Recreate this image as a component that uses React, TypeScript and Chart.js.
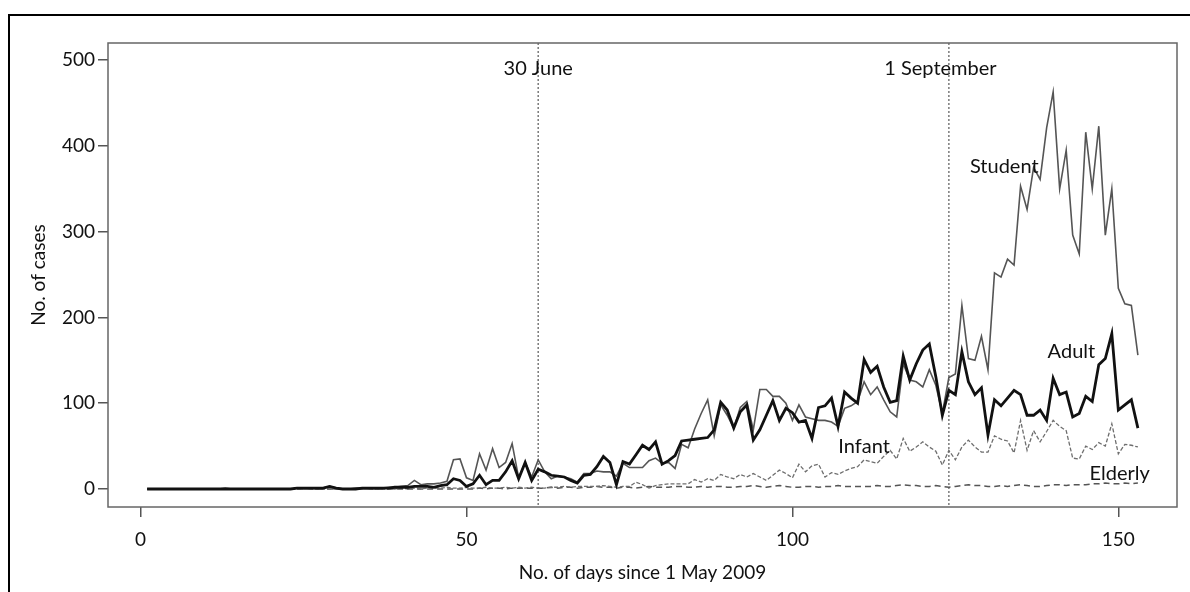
import React, { useEffect, useRef } from "react";
import { Chart, registerables } from "chart.js";

Chart.register(...registerables);

const FIRST_DAY = 1;

const student = [
  0, 0, 0, 0, 0, 0, 0, 0, 0, 0,
  0, 0, 1, 0, 0, 0, 0, 0, 0, 0,
  0, 0, 0, 1, 1, 1, 0, 1, 3, 1,
  0, 0, 1, 1, 1, 0, 1, 2, 2, 3,
  4, 10, 5, 6, 6, 7, 9, 34, 35, 13,
  10, 41, 22, 47, 25, 31, 53, 13, 31, 14,
  34, 20, 12, 15, 14, 12, 8, 18, 18, 21,
  20, 20, 15, 30, 25, 25, 25, 33, 36, 30,
  31, 24, 52, 48, 70, 88, 104, 62, 98, 86,
  71, 95, 102, 69, 116, 116, 108, 108, 100, 80,
  98, 84, 82, 80, 80, 78, 73, 94, 97, 102,
  125, 110, 119, 104, 90, 84, 146, 127, 125, 119,
  139, 121, 88, 130, 134, 214, 152, 150, 178, 139,
  252, 247, 268, 261, 353, 326, 375, 361, 421, 463,
  350, 395, 296, 274, 416, 350, 423, 296, 350, 234,
  216, 214, 156,
];

const adult = [
  0, 0, 0, 0, 0, 0, 0, 0, 0, 0,
  0, 0, 0, 0, 0, 0, 0, 0, 0, 0,
  0, 0, 0, 1, 1, 1, 1, 1, 3, 1,
  0, 0, 0, 1, 1, 1, 1, 1, 2, 2,
  2, 3, 3, 3, 2, 4, 5, 12, 10, 3,
  6, 16, 5, 10, 10, 20, 33, 12, 31, 10,
  23, 20, 16, 15, 14, 10, 7, 16, 17, 26,
  38, 31, 5, 32, 29, 40, 51, 46, 55, 29,
  33, 39, 56, 57, 58, 59, 60, 69, 101, 92,
  71, 90, 98, 57, 69, 86, 103, 80, 94, 89,
  78, 80, 59, 95, 97, 106, 73, 113, 106, 100,
  151, 136, 143, 119, 101, 103, 155, 127, 146, 162,
  169, 131, 86, 115, 110, 160, 125, 110, 118, 63,
  104, 97, 106, 115, 110, 86, 86, 92, 80, 129,
  110, 113, 84, 88, 108, 102, 145, 152, 181, 92,
  98, 104, 71,
];

const infant = [
  0, 0, 0, 0, 0, 0, 0, 0, 0, 0,
  0, 0, 0, 0, 0, 0, 0, 0, 0, 0,
  0, 0, 0, 0, 0, 0, 0, 0, 0, 0,
  0, 0, 0, 0, 0, 0, 0, 0, 0, 1,
  0, 1, 0, 1, 1, 1, 2, 1, 1, 2,
  1, 1, 2, 1, 1, 2, 1, 2, 1, 2,
  1, 1, 2, 2, 3, 2, 3, 3, 3, 3,
  4, 3, 2, 3, 3, 8, 5, 1, 4, 5,
  6, 6, 6, 6, 11, 8, 12, 10, 17, 14,
  12, 17, 14, 18, 14, 10, 16, 22, 18, 13,
  29, 20, 27, 29, 14, 19, 17, 21, 24, 26,
  34, 32, 30, 38, 45, 35, 59, 44, 49, 55,
  49, 44, 28, 45, 34, 49, 57, 49, 43, 43,
  62, 58, 56, 42, 80, 45, 68, 55, 67, 80,
  73, 68, 36, 35, 50, 46, 54, 50, 76, 41,
  52, 51, 49,
];

const elderly = [
  0, 0, 0, 0, 0, 0, 0, 0, 0, 0,
  0, 0, 0, 0, 0, 0, 0, 0, 0, 0,
  0, 0, 0, 0, 0, 0, 0, 0, 0, 0,
  0, 0, 0, 0, 0, 0, 0, 0, 0, 0,
  0, 0, 0, 0, 0, 0, 0, 0, 0, 0,
  0, 1, 0, 1, 1, 0, 1, 1, 1, 1,
  1, 1, 2, 1, 2, 2, 1, 2, 2, 3,
  2, 2, 1, 2, 2, 1, 2, 3, 2, 2,
  2, 3, 3, 2, 2, 3, 2, 3, 3, 2,
  2, 3, 3, 4, 3, 2, 3, 4, 3, 2,
  2, 3, 3, 2, 3, 3, 4, 3, 3, 3,
  3, 3, 4, 3, 3, 4, 5, 4, 4, 3,
  3, 4, 3, 2, 3, 4, 5, 4, 4, 3,
  3, 4, 3, 4, 5, 4, 3, 3, 4, 5,
  5, 4, 5, 5, 5, 6, 6, 7, 6, 6,
  7, 6, 7,
];

const days = student.map((_, i) => FIRST_DAY + i);

const X_TICKS = [0, 50, 100, 150];
const Y_TICKS = [0, 100, 200, 300, 400, 500];

const MARKER_DAYS = [61, 124];
const MARKER_TEXTS = ["30 June", "1 September"];
const MARKER_TEXT_DAYS = [61, 122.7];
const MARKER_TEXT_VALUE = 490;

const SERIES_NAMES = ["Student", "Adult", "Infant", "Elderly"];
const SERIES_LABEL_DAYS = [132.5, 142.8, 111, 150.2];
const SERIES_LABEL_VALUES = [376, 160, 50, 17.5];

const FONT = "Lato, 'DejaVu Sans', sans-serif";

const toPoints = (vals: number[]) => vals.map((v, i) => ({ x: days[i], y: v }));

const overlayPlugin = {
  id: "overlay",
  beforeDatasetsDraw(chart: any) {
    const { ctx, chartArea, scales } = chart;
    ctx.save();
    ctx.strokeStyle = "#7a7a7a";
    ctx.lineWidth = 1.5;
    ctx.setLineDash([2, 2]);
    MARKER_DAYS.forEach((d) => {
      const x = scales.x.getPixelForValue(d);
      ctx.beginPath();
      ctx.moveTo(x, chartArea.top);
      ctx.lineTo(x, chartArea.bottom);
      ctx.stroke();
    });
    ctx.restore();
  },
  afterDraw(chart: any) {
    const { ctx, chartArea, scales } = chart;
    ctx.save();
    ctx.strokeStyle = "#666";
    ctx.lineWidth = 1.5;
    ctx.setLineDash([]);
    ctx.strokeRect(
      chartArea.left,
      chartArea.top,
      chartArea.right - chartArea.left,
      chartArea.bottom - chartArea.top
    );
    ctx.fillStyle = "#111";
    ctx.font = `20px ${FONT}`;
    ctx.textAlign = "center";
    ctx.textBaseline = "middle";
    MARKER_TEXTS.forEach((t, i) => {
      ctx.fillText(
        t,
        scales.x.getPixelForValue(MARKER_TEXT_DAYS[i]),
        scales.y.getPixelForValue(MARKER_TEXT_VALUE)
      );
    });
    SERIES_NAMES.forEach((t, i) => {
      ctx.fillText(
        t,
        scales.x.getPixelForValue(SERIES_LABEL_DAYS[i]),
        scales.y.getPixelForValue(SERIES_LABEL_VALUES[i])
      );
    });
    ctx.restore();
  },
};

export default function App() {
  const ref = useRef<HTMLCanvasElement | null>(null);

  useEffect(() => {
    if (!ref.current) return;
    const chart = new Chart(ref.current, {
      type: "line",
      data: {
        datasets: [
          {
            label: "Adult",
            data: toPoints(adult),
            borderColor: "#111",
            borderWidth: 2.8,
            pointRadius: 0,
            tension: 0,
          },
          {
            label: "Student",
            data: toPoints(student),
            borderColor: "#555",
            borderWidth: 1.6,
            pointRadius: 0,
            tension: 0,
          },
          {
            label: "Infant",
            data: toPoints(infant),
            borderColor: "#6e6e6e",
            borderWidth: 1.3,
            borderDash: [4, 2],
            pointRadius: 0,
            tension: 0,
          },
          {
            label: "Elderly",
            data: toPoints(elderly),
            borderColor: "#555",
            borderWidth: 1.5,
            borderDash: [6, 4],
            pointRadius: 0,
            tension: 0,
          },
        ],
      },
      options: {
        responsive: false,
        animation: false,
        devicePixelRatio: 1,
        layout: { padding: { left: 20, top: 43, right: 13, bottom: 0 } },
        plugins: {
          legend: { display: false },
          tooltip: { enabled: false },
        },
        scales: {
          x: {
            type: "linear",
            min: -5,
            max: 159,
            afterFit: (s: any) => {
              s.height = 85;
            },
            afterBuildTicks: (s: any) => {
              s.ticks = X_TICKS.map((v) => ({ value: v }));
            },
            ticks: {
              color: "#111",
              font: { family: FONT, size: 19 },
              padding: 11,
              maxRotation: 0,
            },
            grid: {
              drawOnChartArea: false,
              drawTicks: true,
              tickLength: 10,
              color: "#555",
              lineWidth: 1.5,
            },
            border: { display: false },
            title: {
              display: true,
              text: "No. of days since 1 May 2009",
              color: "#111",
              font: { family: FONT, size: 19 },
              padding: { top: 0, bottom: 8 },
            },
          },
          y: {
            type: "linear",
            min: -21,
            max: 520,
            afterFit: (s: any) => {
              s.width = 88;
            },
            afterBuildTicks: (s: any) => {
              s.ticks = Y_TICKS.map((v) => ({ value: v }));
            },
            ticks: {
              color: "#111",
              font: { family: FONT, size: 19 },
              padding: 3,
            },
            grid: {
              drawOnChartArea: false,
              drawTicks: true,
              tickLength: 10,
              color: "#555",
              lineWidth: 1.5,
            },
            border: { display: false },
            title: {
              display: true,
              text: "No. of cases",
              color: "#111",
              font: { family: FONT, size: 19 },
              padding: { top: 7, bottom: 0 },
            },
          },
        },
      },
      plugins: [overlayPlugin],
    } as any);
    return () => chart.destroy();
  }, []);

  return (
    <div>
      <div
        style={{
          position: "fixed",
          left: 8,
          top: 14,
          width: 1182,
          height: 578,
          borderTop: "2px solid #000",
          borderLeft: "2px solid #000",
          boxSizing: "border-box",
        }}
      />
      <canvas
        ref={ref}
        width={1190}
        height={592}
        style={{ position: "fixed", left: 0, top: 0, width: 1190, height: 592 }}
      />
    </div>
  );
}
